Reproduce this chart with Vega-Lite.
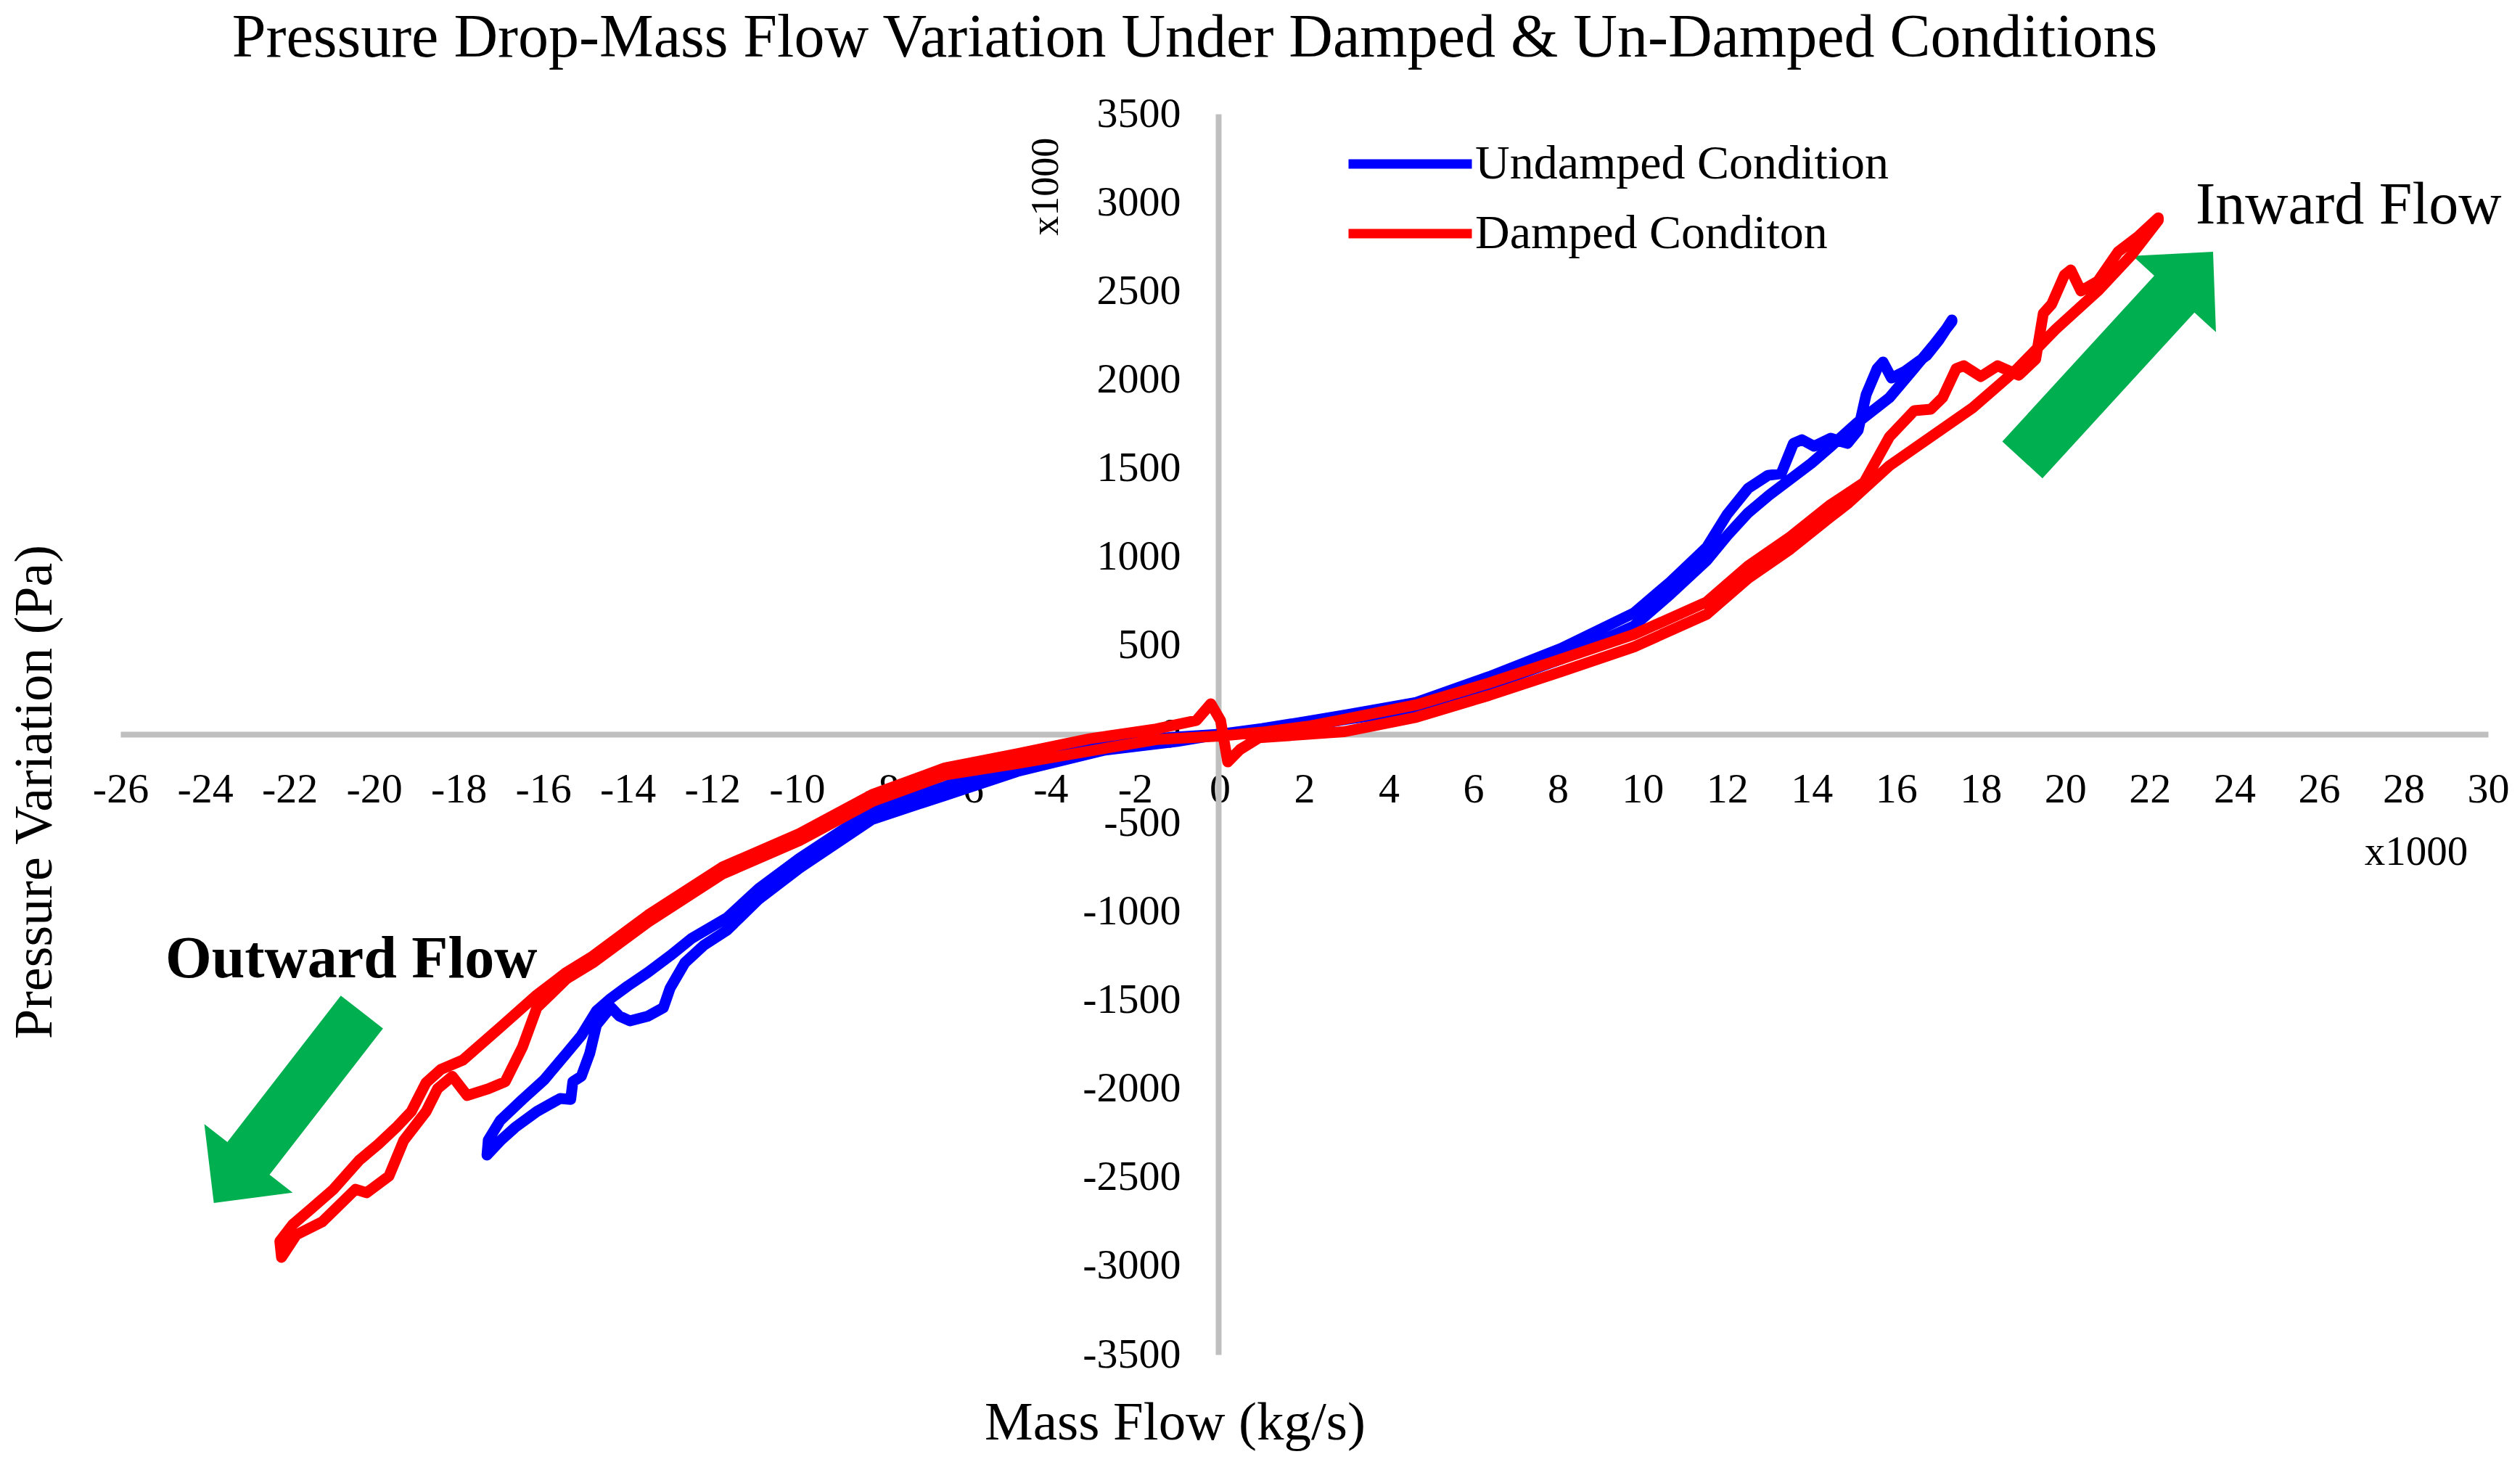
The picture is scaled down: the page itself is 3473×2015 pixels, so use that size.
{
  "$schema": "https://vega.github.io/schema/vega-lite/v6.json",
  "description": "Pressure drop vs mass flow, damped and undamped.",
  "autosize": "none",
  "width": 3263,
  "height": 1710,
  "padding": {"left": 166, "top": 157, "right": 44, "bottom": 148},
  "background": "white",
  "config": {"view": {"stroke": null}},
  "title": {
    "text": "Pressure Drop-Mass Flow Variation Under Damped & Un-Damped Conditions",
    "font": "Liberation Serif", "fontSize": 84, "fontWeight": "normal", "color": "black",
    "anchor": "middle", "frame": "group", "dx": -151, "offset": 32
  },
  "datasets": {
    "curves": [
      {"series": "Undamped Condition", "order": 1, "flow": -17.33, "dp": -2374},
      {"series": "Undamped Condition", "order": 2, "flow": -17.3, "dp": -2290},
      {"series": "Undamped Condition", "order": 3, "flow": -17.02, "dp": -2180},
      {"series": "Undamped Condition", "order": 4, "flow": -16.49, "dp": -2060},
      {"series": "Undamped Condition", "order": 5, "flow": -15.98, "dp": -1950},
      {"series": "Undamped Condition", "order": 6, "flow": -15.45, "dp": -1800},
      {"series": "Undamped Condition", "order": 7, "flow": -15.1, "dp": -1700},
      {"series": "Undamped Condition", "order": 8, "flow": -14.74, "dp": -1560},
      {"series": "Undamped Condition", "order": 9, "flow": -14.4, "dp": -1490},
      {"series": "Undamped Condition", "order": 10, "flow": -14.0, "dp": -1420},
      {"series": "Undamped Condition", "order": 11, "flow": -13.52, "dp": -1343},
      {"series": "Undamped Condition", "order": 12, "flow": -13.0, "dp": -1250},
      {"series": "Undamped Condition", "order": 13, "flow": -12.48, "dp": -1150},
      {"series": "Undamped Condition", "order": 14, "flow": -11.65, "dp": -1035},
      {"series": "Undamped Condition", "order": 15, "flow": -10.9, "dp": -870},
      {"series": "Undamped Condition", "order": 16, "flow": -9.94, "dp": -700},
      {"series": "Undamped Condition", "order": 17, "flow": -8.22, "dp": -430},
      {"series": "Undamped Condition", "order": 18, "flow": -6.5, "dp": -295},
      {"series": "Undamped Condition", "order": 19, "flow": -4.79, "dp": -140},
      {"series": "Undamped Condition", "order": 20, "flow": -2.73, "dp": -50},
      {"series": "Undamped Condition", "order": 21, "flow": -1.0, "dp": -15},
      {"series": "Undamped Condition", "order": 22, "flow": 0, "dp": 0},
      {"series": "Undamped Condition", "order": 23, "flow": 1, "dp": 12},
      {"series": "Undamped Condition", "order": 24, "flow": 2, "dp": 45},
      {"series": "Undamped Condition", "order": 25, "flow": 3, "dp": 85},
      {"series": "Undamped Condition", "order": 26, "flow": 4.65, "dp": 140},
      {"series": "Undamped Condition", "order": 27, "flow": 6.37, "dp": 275},
      {"series": "Undamped Condition", "order": 28, "flow": 8.08, "dp": 425},
      {"series": "Undamped Condition", "order": 29, "flow": 9.8, "dp": 612},
      {"series": "Undamped Condition", "order": 30, "flow": 10.66, "dp": 790},
      {"series": "Undamped Condition", "order": 31, "flow": 11.52, "dp": 980},
      {"series": "Undamped Condition", "order": 32, "flow": 12.0, "dp": 1120},
      {"series": "Undamped Condition", "order": 33, "flow": 12.5, "dp": 1250},
      {"series": "Undamped Condition", "order": 34, "flow": 13.0, "dp": 1350},
      {"series": "Undamped Condition", "order": 35, "flow": 13.5, "dp": 1440},
      {"series": "Undamped Condition", "order": 36, "flow": 14.0, "dp": 1530},
      {"series": "Undamped Condition", "order": 37, "flow": 14.46, "dp": 1625},
      {"series": "Undamped Condition", "order": 38, "flow": 15.05, "dp": 1752},
      {"series": "Undamped Condition", "order": 39, "flow": 15.84, "dp": 1899},
      {"series": "Undamped Condition", "order": 40, "flow": 16.42, "dp": 2063},
      {"series": "Undamped Condition", "order": 41, "flow": 16.9, "dp": 2200},
      {"series": "Undamped Condition", "order": 42, "flow": 17.32, "dp": 2329},
      {"series": "Undamped Condition", "order": 43, "flow": 17.32, "dp": 2337},
      {"series": "Undamped Condition", "order": 44, "flow": 17.02, "dp": 2227},
      {"series": "Undamped Condition", "order": 45, "flow": 16.72, "dp": 2137},
      {"series": "Undamped Condition", "order": 46, "flow": 16.2, "dp": 2047},
      {"series": "Undamped Condition", "order": 47, "flow": 15.89, "dp": 2010},
      {"series": "Undamped Condition", "order": 48, "flow": 15.69, "dp": 2100},
      {"series": "Undamped Condition", "order": 49, "flow": 15.55, "dp": 2063},
      {"series": "Undamped Condition", "order": 50, "flow": 15.29, "dp": 1916},
      {"series": "Undamped Condition", "order": 51, "flow": 15.1, "dp": 1715},
      {"series": "Undamped Condition", "order": 52, "flow": 14.85, "dp": 1641},
      {"series": "Undamped Condition", "order": 53, "flow": 14.45, "dp": 1670},
      {"series": "Undamped Condition", "order": 54, "flow": 14.06, "dp": 1625},
      {"series": "Undamped Condition", "order": 55, "flow": 13.77, "dp": 1662},
      {"series": "Undamped Condition", "order": 56, "flow": 13.57, "dp": 1641},
      {"series": "Undamped Condition", "order": 57, "flow": 13.28, "dp": 1470},
      {"series": "Undamped Condition", "order": 58, "flow": 12.97, "dp": 1461},
      {"series": "Undamped Condition", "order": 59, "flow": 12.5, "dp": 1388},
      {"series": "Undamped Condition", "order": 60, "flow": 12.0, "dp": 1240},
      {"series": "Undamped Condition", "order": 61, "flow": 11.52, "dp": 1055},
      {"series": "Undamped Condition", "order": 62, "flow": 10.66, "dp": 860},
      {"series": "Undamped Condition", "order": 63, "flow": 9.8, "dp": 685},
      {"series": "Undamped Condition", "order": 64, "flow": 8.08, "dp": 485},
      {"series": "Undamped Condition", "order": 65, "flow": 6.37, "dp": 325},
      {"series": "Undamped Condition", "order": 66, "flow": 4.65, "dp": 180},
      {"series": "Undamped Condition", "order": 67, "flow": 3, "dp": 110},
      {"series": "Undamped Condition", "order": 68, "flow": 2, "dp": 70},
      {"series": "Undamped Condition", "order": 69, "flow": 1, "dp": 32},
      {"series": "Undamped Condition", "order": 70, "flow": 0, "dp": 0},
      {"series": "Undamped Condition", "order": 71, "flow": -1, "dp": -40},
      {"series": "Undamped Condition", "order": 72, "flow": -2.73, "dp": -90},
      {"series": "Undamped Condition", "order": 73, "flow": -4.79, "dp": -210},
      {"series": "Undamped Condition", "order": 74, "flow": -6.5, "dp": -345},
      {"series": "Undamped Condition", "order": 75, "flow": -8.22, "dp": -480},
      {"series": "Undamped Condition", "order": 76, "flow": -9.94, "dp": -755},
      {"series": "Undamped Condition", "order": 77, "flow": -10.9, "dp": -930},
      {"series": "Undamped Condition", "order": 78, "flow": -11.65, "dp": -1105},
      {"series": "Undamped Condition", "order": 79, "flow": -12.2, "dp": -1190},
      {"series": "Undamped Condition", "order": 80, "flow": -12.65, "dp": -1289},
      {"series": "Undamped Condition", "order": 81, "flow": -13.0, "dp": -1433},
      {"series": "Undamped Condition", "order": 82, "flow": -13.16, "dp": -1543},
      {"series": "Undamped Condition", "order": 83, "flow": -13.52, "dp": -1590},
      {"series": "Undamped Condition", "order": 84, "flow": -13.95, "dp": -1617},
      {"series": "Undamped Condition", "order": 85, "flow": -14.2, "dp": -1590},
      {"series": "Undamped Condition", "order": 86, "flow": -14.4, "dp": -1540},
      {"series": "Undamped Condition", "order": 87, "flow": -14.74, "dp": -1640},
      {"series": "Undamped Condition", "order": 88, "flow": -14.9, "dp": -1800},
      {"series": "Undamped Condition", "order": 89, "flow": -15.1, "dp": -1930},
      {"series": "Undamped Condition", "order": 90, "flow": -15.3, "dp": -1960},
      {"series": "Undamped Condition", "order": 91, "flow": -15.35, "dp": -2060},
      {"series": "Undamped Condition", "order": 92, "flow": -15.6, "dp": -2055},
      {"series": "Undamped Condition", "order": 93, "flow": -16.15, "dp": -2128},
      {"series": "Undamped Condition", "order": 94, "flow": -16.67, "dp": -2219},
      {"series": "Undamped Condition", "order": 95, "flow": -17.0, "dp": -2290},
      {"series": "Undamped Condition", "order": 96, "flow": -17.33, "dp": -2374},
      {"series": "Damped Conditon", "order": 1, "flow": -22.19, "dp": -2951},
      {"series": "Damped Conditon", "order": 2, "flow": -22.23, "dp": -2861},
      {"series": "Damped Conditon", "order": 3, "flow": -21.93, "dp": -2767},
      {"series": "Damped Conditon", "order": 4, "flow": -21.49, "dp": -2677},
      {"series": "Damped Conditon", "order": 5, "flow": -20.96, "dp": -2567},
      {"series": "Damped Conditon", "order": 6, "flow": -20.35, "dp": -2403},
      {"series": "Damped Conditon", "order": 7, "flow": -19.9, "dp": -2313},
      {"series": "Damped Conditon", "order": 8, "flow": -19.48, "dp": -2219},
      {"series": "Damped Conditon", "order": 9, "flow": -19.12, "dp": -2128},
      {"series": "Damped Conditon", "order": 10, "flow": -18.77, "dp": -1965},
      {"series": "Damped Conditon", "order": 11, "flow": -18.42, "dp": -1891},
      {"series": "Damped Conditon", "order": 12, "flow": -17.9, "dp": -1838},
      {"series": "Damped Conditon", "order": 13, "flow": -17.02, "dp": -1654},
      {"series": "Damped Conditon", "order": 14, "flow": -16.15, "dp": -1470},
      {"series": "Damped Conditon", "order": 15, "flow": -15.45, "dp": -1343},
      {"series": "Damped Conditon", "order": 16, "flow": -14.83, "dp": -1252},
      {"series": "Damped Conditon", "order": 17, "flow": -13.52, "dp": -1020},
      {"series": "Damped Conditon", "order": 18, "flow": -11.77, "dp": -750},
      {"series": "Damped Conditon", "order": 19, "flow": -9.94, "dp": -560},
      {"series": "Damped Conditon", "order": 20, "flow": -8.22, "dp": -340},
      {"series": "Damped Conditon", "order": 21, "flow": -6.5, "dp": -190},
      {"series": "Damped Conditon", "order": 22, "flow": -4.79, "dp": -110},
      {"series": "Damped Conditon", "order": 23, "flow": -3.07, "dp": -25},
      {"series": "Damped Conditon", "order": 24, "flow": -1.5, "dp": 30},
      {"series": "Damped Conditon", "order": 25, "flow": -0.55, "dp": 78},
      {"series": "Damped Conditon", "order": 26, "flow": -0.21, "dp": 172},
      {"series": "Damped Conditon", "order": 27, "flow": 0.02, "dp": 78},
      {"series": "Damped Conditon", "order": 28, "flow": 0.19, "dp": -156},
      {"series": "Damped Conditon", "order": 29, "flow": 0.48, "dp": -86},
      {"series": "Damped Conditon", "order": 30, "flow": 0.93, "dp": -20},
      {"series": "Damped Conditon", "order": 31, "flow": 2.08, "dp": 0},
      {"series": "Damped Conditon", "order": 32, "flow": 2.93, "dp": 14},
      {"series": "Damped Conditon", "order": 33, "flow": 4.65, "dp": 96},
      {"series": "Damped Conditon", "order": 34, "flow": 6.37, "dp": 219},
      {"series": "Damped Conditon", "order": 35, "flow": 8.08, "dp": 354},
      {"series": "Damped Conditon", "order": 36, "flow": 9.8, "dp": 493},
      {"series": "Damped Conditon", "order": 37, "flow": 11.52, "dp": 677},
      {"series": "Damped Conditon", "order": 38, "flow": 12.5, "dp": 880},
      {"series": "Damped Conditon", "order": 39, "flow": 13.5, "dp": 1045},
      {"series": "Damped Conditon", "order": 40, "flow": 14.45, "dp": 1226},
      {"series": "Damped Conditon", "order": 41, "flow": 14.85, "dp": 1300},
      {"series": "Damped Conditon", "order": 42, "flow": 15.84, "dp": 1515},
      {"series": "Damped Conditon", "order": 43, "flow": 16.82, "dp": 1678},
      {"series": "Damped Conditon", "order": 44, "flow": 17.81, "dp": 1842},
      {"series": "Damped Conditon", "order": 45, "flow": 18.8, "dp": 2047},
      {"series": "Damped Conditon", "order": 46, "flow": 19.77, "dp": 2284},
      {"series": "Damped Conditon", "order": 47, "flow": 20.77, "dp": 2501},
      {"series": "Damped Conditon", "order": 48, "flow": 21.56, "dp": 2702},
      {"series": "Damped Conditon", "order": 49, "flow": 22.2, "dp": 2900},
      {"series": "Damped Conditon", "order": 50, "flow": 22.2, "dp": 2914},
      {"series": "Damped Conditon", "order": 51, "flow": 21.74, "dp": 2812},
      {"series": "Damped Conditon", "order": 52, "flow": 21.25, "dp": 2722},
      {"series": "Damped Conditon", "order": 53, "flow": 20.77, "dp": 2556},
      {"series": "Damped Conditon", "order": 54, "flow": 20.37, "dp": 2501},
      {"series": "Damped Conditon", "order": 55, "flow": 20.13, "dp": 2620},
      {"series": "Damped Conditon", "order": 56, "flow": 19.98, "dp": 2591},
      {"series": "Damped Conditon", "order": 57, "flow": 19.68, "dp": 2427},
      {"series": "Damped Conditon", "order": 58, "flow": 19.48, "dp": 2374},
      {"series": "Damped Conditon", "order": 59, "flow": 19.3, "dp": 2116},
      {"series": "Damped Conditon", "order": 60, "flow": 18.9, "dp": 2026},
      {"series": "Damped Conditon", "order": 61, "flow": 18.4, "dp": 2079},
      {"series": "Damped Conditon", "order": 62, "flow": 18.0, "dp": 2018},
      {"series": "Damped Conditon", "order": 63, "flow": 17.6, "dp": 2079},
      {"series": "Damped Conditon", "order": 64, "flow": 17.42, "dp": 2063},
      {"series": "Damped Conditon", "order": 65, "flow": 17.1, "dp": 1900},
      {"series": "Damped Conditon", "order": 66, "flow": 16.82, "dp": 1834},
      {"series": "Damped Conditon", "order": 67, "flow": 16.43, "dp": 1826},
      {"series": "Damped Conditon", "order": 68, "flow": 15.84, "dp": 1678},
      {"series": "Damped Conditon", "order": 69, "flow": 15.24, "dp": 1420},
      {"series": "Damped Conditon", "order": 70, "flow": 14.45, "dp": 1296},
      {"series": "Damped Conditon", "order": 71, "flow": 13.5, "dp": 1115},
      {"series": "Damped Conditon", "order": 72, "flow": 12.5, "dp": 950},
      {"series": "Damped Conditon", "order": 73, "flow": 11.52, "dp": 747},
      {"series": "Damped Conditon", "order": 74, "flow": 9.8, "dp": 563},
      {"series": "Damped Conditon", "order": 75, "flow": 8.08, "dp": 424},
      {"series": "Damped Conditon", "order": 76, "flow": 6.37, "dp": 289},
      {"series": "Damped Conditon", "order": 77, "flow": 4.65, "dp": 166},
      {"series": "Damped Conditon", "order": 78, "flow": 2.93, "dp": 84},
      {"series": "Damped Conditon", "order": 79, "flow": 2.08, "dp": 45},
      {"series": "Damped Conditon", "order": 80, "flow": 1, "dp": 12},
      {"series": "Damped Conditon", "order": 81, "flow": 0, "dp": -10},
      {"series": "Damped Conditon", "order": 82, "flow": -1.5, "dp": -30},
      {"series": "Damped Conditon", "order": 83, "flow": -2.73, "dp": -80},
      {"series": "Damped Conditon", "order": 84, "flow": -4.79, "dp": -165},
      {"series": "Damped Conditon", "order": 85, "flow": -6.5, "dp": -230},
      {"series": "Damped Conditon", "order": 86, "flow": -8.22, "dp": -380},
      {"series": "Damped Conditon", "order": 87, "flow": -9.94, "dp": -600},
      {"series": "Damped Conditon", "order": 88, "flow": -11.77, "dp": -790},
      {"series": "Damped Conditon", "order": 89, "flow": -13.52, "dp": -1060},
      {"series": "Damped Conditon", "order": 90, "flow": -14.83, "dp": -1290},
      {"series": "Damped Conditon", "order": 91, "flow": -15.45, "dp": -1380},
      {"series": "Damped Conditon", "order": 92, "flow": -16.15, "dp": -1543},
      {"series": "Damped Conditon", "order": 93, "flow": -16.49, "dp": -1764},
      {"series": "Damped Conditon", "order": 94, "flow": -16.9, "dp": -1960},
      {"series": "Damped Conditon", "order": 95, "flow": -17.3, "dp": -2000},
      {"series": "Damped Conditon", "order": 96, "flow": -17.8, "dp": -2038},
      {"series": "Damped Conditon", "order": 97, "flow": -18.15, "dp": -1930},
      {"series": "Damped Conditon", "order": 98, "flow": -18.5, "dp": -2000},
      {"series": "Damped Conditon", "order": 99, "flow": -18.77, "dp": -2128},
      {"series": "Damped Conditon", "order": 100, "flow": -19.3, "dp": -2292},
      {"series": "Damped Conditon", "order": 101, "flow": -19.65, "dp": -2493},
      {"series": "Damped Conditon", "order": 102, "flow": -20.18, "dp": -2587},
      {"series": "Damped Conditon", "order": 103, "flow": -20.44, "dp": -2567},
      {"series": "Damped Conditon", "order": 104, "flow": -21.23, "dp": -2751},
      {"series": "Damped Conditon", "order": 105, "flow": -21.84, "dp": -2824},
      {"series": "Damped Conditon", "order": 106, "flow": -22.19, "dp": -2951}
    ]
  },
  "encoding": {
    "x": {
      "field": "flow", "type": "quantitative",
      "scale": {"domain": [-26, 30], "nice": false, "zero": false},
      "axis": {
        "values": [-26, -24, -22, -20, -18, -16, -14, -12, -10, -8, -6, -4, -2, 0, 2, 4, 6, 8, 10, 12, 14, 16, 18, 20, 22, 24, 26, 28, 30],
        "labelExpr": "'' + datum.value",
        "offset": -855, "grid": false, "ticks": false,
        "domainColor": "#bfbfbf", "domainWidth": 8,
        "labelFont": "Liberation Serif", "labelFontSize": 58, "labelColor": "black",
        "labelPadding": 47, "labelFlush": false, "labelOverlap": false,
        "title": "Mass Flow (kg/s)", "titleFont": "Liberation Serif", "titleFontSize": 75,
        "titleFontWeight": "normal", "titleColor": "black",
        "titleX": 1453, "titleY": 971, "titleBaseline": "alphabetic", "titleAlign": "center"
      }
    },
    "y": {
      "field": "dp", "type": "quantitative",
      "scale": {"domain": [-3500, 3500], "nice": false},
      "axis": {
        "values": [-3500, -3000, -2500, -2000, -1500, -1000, -500, 0, 500, 1000, 1500, 2000, 2500, 3000, 3500],
        "labelExpr": "'' + datum.value",
        "offset": -1513, "grid": false, "ticks": false,
        "domainColor": "#bfbfbf", "domainWidth": 8,
        "labelFont": "Liberation Serif", "labelFontSize": 58, "labelColor": "black",
        "labelPadding": 52, "labelFlush": false, "labelOverlap": false,
        "title": "Pressure Variation (Pa)", "titleFont": "Liberation Serif", "titleFontSize": 74,
        "titleFontWeight": "normal", "titleColor": "black", "titleAngle": 270,
        "titleX": -1609, "titleY": 934, "titleBaseline": "alphabetic", "titleAlign": "center"
      }
    }
  },
  "layer": [
    {
      "data": {"values": [{"flow": 21.24, "dp": 2135}]},
      "mark": {
        "type": "point", "filled": true, "opacity": 1, "color": "#00b050", "strokeWidth": 0,
        "shape": "M -1 -0.193 L 0.594 -0.193 L 0.594 -0.4 L 1 0 L 0.594 0.4 L 0.594 0.193 L -1 0.193 Z",
        "size": 151321, "angle": -47.5
      }
    },
    {
      "data": {"values": [{"flow": -22.04, "dp": -2106}]},
      "mark": {
        "type": "point", "filled": true, "opacity": 1, "color": "#00b050", "strokeWidth": 0,
        "shape": "M -1 -0.221 L 0.532 -0.221 L 0.532 -0.4625 L 1 0 L 0.532 0.4625 L 0.532 0.221 L -1 0.221 Z",
        "size": 110889, "angle": 127.8
      }
    },
    {
      "data": {"name": "curves"},
      "mark": {"type": "line", "strokeWidth": 15, "strokeCap": "round", "strokeJoin": "round"},
      "encoding": {
        "order": {"field": "order", "type": "quantitative"},
        "color": {
          "field": "series", "type": "nominal",
          "scale": {"domain": ["Undamped Condition", "Damped Conditon"], "range": ["#0000ff", "#ff0000"]},
          "legend": {
            "title": null, "orient": "none", "legendX": 1686, "legendY": 21,
            "symbolType": "stroke", "symbolSize": 28900, "symbolStrokeWidth": 13,
            "labelFont": "Liberation Serif", "labelFontSize": 66, "labelColor": "black",
            "labelOffset": -2, "rowPadding": 0, "clipHeight": 96, "padding": 0, "labelLimit": 0
          }
        }
      }
    },
    {
      "data": {"values": [{"flow": 26.7, "dp": 2882, "label": "Inward Flow"}]},
      "mark": {"type": "text", "font": "Liberation Serif", "fontSize": 82, "color": "black", "align": "center", "baseline": "alphabetic"},
      "encoding": {"text": {"field": "label"}}
    },
    {
      "data": {"values": [{"flow": -20.54, "dp": -1371, "label": "Outward Flow"}]},
      "mark": {"type": "text", "font": "Liberation Serif", "fontSize": 82, "fontWeight": "bold", "color": "black", "align": "center", "baseline": "alphabetic"},
      "encoding": {"text": {"field": "label"}}
    },
    {
      "data": {"values": [{"flow": 28.3, "dp": -737, "label": "x1000"}]},
      "mark": {"type": "text", "font": "Liberation Serif", "fontSize": 57, "color": "black", "align": "center", "baseline": "alphabetic"},
      "encoding": {"text": {"field": "label"}}
    },
    {
      "data": {"values": [{"flow": -3.83, "dp": 3090, "label": "x1000"}]},
      "mark": {"type": "text", "font": "Liberation Serif", "fontSize": 54, "color": "black", "align": "center", "baseline": "alphabetic", "angle": 270},
      "encoding": {"text": {"field": "label"}}
    }
  ]
}
